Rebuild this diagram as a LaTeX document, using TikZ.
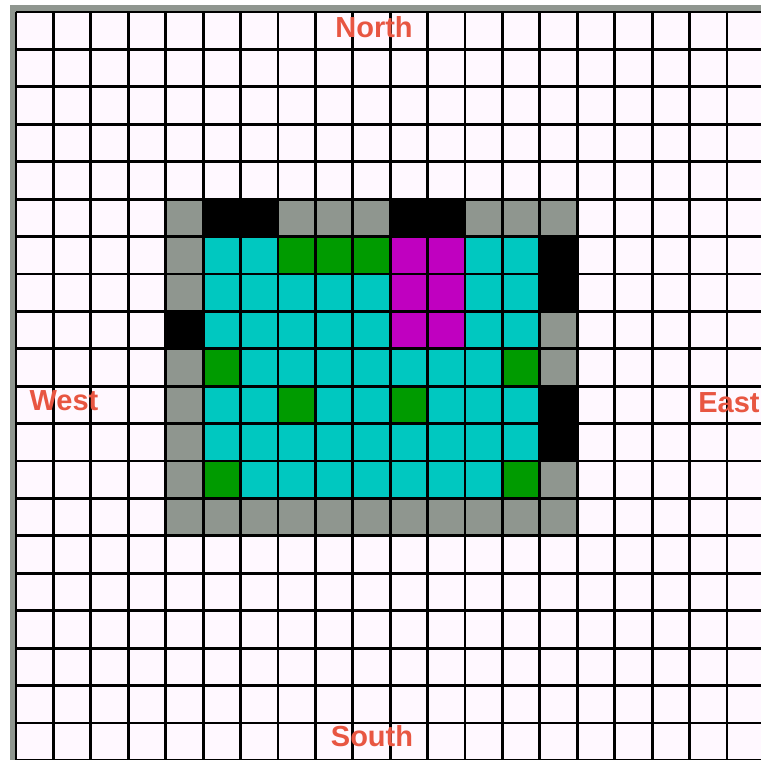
\documentclass[tikz,border=0pt]{standalone}
\usepackage{fontspec}
\setmainfont{Liberation Sans}
\definecolor{cellbg}{RGB}{255,248,255}
\definecolor{frame}{RGB}{143,150,143}
\definecolor{wallgray}{RGB}{143,150,143}
\definecolor{floorcyan}{RGB}{0,200,192}
\definecolor{plantgreen}{RGB}{0,155,0}
\definecolor{roommag}{RGB}{192,0,192}
\definecolor{labelred}{RGB}{232,86,66}
\tikzset{
  dirlabel/.style={font=\bfseries\fontsize{29}{31}\selectfont, text=labelred, anchor=base, inner sep=0pt},
  gridline/.style={black, line width=2.8pt}
}
\newcommand{\cs}{37.42}
\newcommand{\ox}{16}
\newcommand{\oy}{12}
\begin{document}
\begin{tikzpicture}[x=1pt,y=-1pt]
\useasboundingbox (0,0) rectangle (761,760);
\fill[white] (0,0) rectangle (761,760);
\fill[frame] (10,5) rectangle (761,760);
\fill[cellbg] (\ox,\oy) rectangle (761,760);
% building
\fill[wallgray] ({\ox+4*\cs},{\oy+5*\cs}) rectangle ({\ox+15*\cs},{\oy+14*\cs});
\fill[floorcyan] ({\ox+5*\cs},{\oy+6*\cs}) rectangle ({\ox+14*\cs},{\oy+13*\cs});
\foreach \c/\r in {5/5,6/5,10/5,11/5,14/6,14/7,4/8,14/10,14/11}
  \fill[black] ({\ox+\c*\cs},{\oy+\r*\cs}) rectangle ++(\cs,\cs);
\foreach \c/\r in {7/6,8/6,9/6,5/9,13/9,7/10,10/10,5/12,13/12}
  \fill[plantgreen] ({\ox+\c*\cs},{\oy+\r*\cs}) rectangle ++(\cs,\cs);
\foreach \c/\r in {10/6,11/6,10/7,11/7,10/8,11/8}
  \fill[roommag] ({\ox+\c*\cs},{\oy+\r*\cs}) rectangle ++(\cs,\cs);
% grid
\begin{scope}
\clip (\ox-2,\oy-2) rectangle (761,760);
\foreach \i in {0,...,20} {
  \draw[gridline] ({\ox+\i*\cs},\oy) -- ({\ox+\i*\cs},762);
  \draw[gridline] (\ox,{\oy+\i*\cs}) -- (762,{\oy+\i*\cs});
}
\end{scope}
% labels
\node[dirlabel] (north) at (374,38) {North};
\node[dirlabel] (south) at (372,746) {South};
\node[dirlabel] (west) at (64,410) {West};
\node[dirlabel] (east) at (729,412) {East};
\end{tikzpicture}
\end{document}
